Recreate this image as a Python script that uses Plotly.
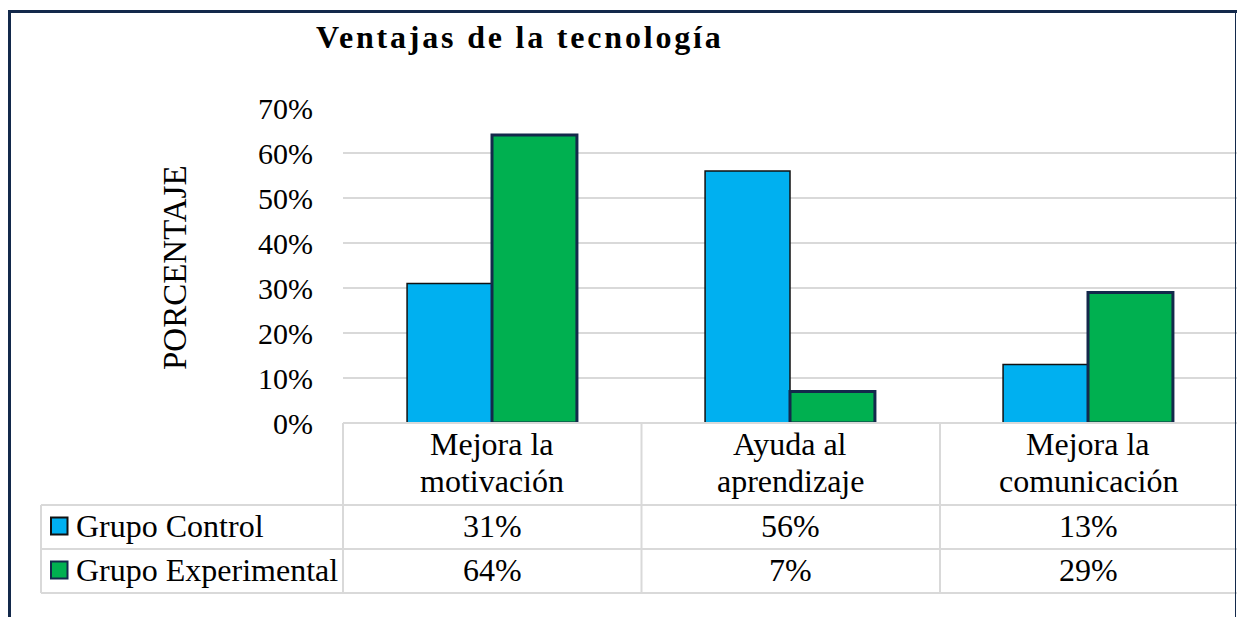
import plotly.graph_objects as go

W, H = 1237, 617

categories = ["Mejora la<br>motivación", "Ayuda al<br>aprendizaje", "Mejora la<br>comunicación"]
series_names = ["Grupo Control", "Grupo Experimental"]
control = [0.31, 0.56, 0.13]
experimental = [0.64, 0.07, 0.29]
y_ticks = [0, 0.1, 0.2, 0.3, 0.4, 0.5, 0.6, 0.7]

BLUE = "#00B0F0"
GREEN = "#00B050"
NAVY = "#13294B"
GRID = "#D9D9D9"
FONT = "Liberation Serif, Times New Roman, serif"
TXT = 32


def px_x(x):
    return x / W


def px_y(y):
    return 1 - y / H


def note(text, x, y, xref="paper", size=TXT, **kw):
    fig.add_annotation(text=text, x=x, y=y, xref=xref, yref="paper", showarrow=False,
                       xanchor=kw.pop("xanchor", "center"), yanchor="middle",
                       font=dict(family=FONT, size=size, color="black"), **kw)


fig = go.Figure()
fig.add_bar(x=categories, y=control, name=series_names[0],
            marker=dict(color=BLUE, line=dict(color="#111111", width=1.5)))
fig.add_bar(x=categories, y=experimental, name=series_names[1],
            marker=dict(color=GREEN, line=dict(color=NAVY, width=3)))

fig.update_layout(
    template="none",
    width=W, height=H,
    margin=dict(l=0, r=0, t=0, b=0, pad=0, autoexpand=False),
    paper_bgcolor="white", plot_bgcolor="white",
    barmode="group", bargap=0.43, bargroupgap=0,
    showlegend=False,
    font=dict(family=FONT, size=TXT, color="black"),
)
fig.update_xaxes(domain=[px_x(343), 1], showticklabels=False, showgrid=False,
                 zeroline=False, showline=False, automargin=False, ticks="")
fig.update_yaxes(domain=[px_y(423), px_y(108)], range=[0, 0.7],
                 tickvals=y_ticks, tickformat=".0%", showgrid=True,
                 gridcolor=GRID, gridwidth=2, zeroline=False, showline=False,
                 ticks="", ticklabelstandoff=29, automargin=False,
                 tickfont=dict(family=FONT, size=30, color="black"))

# title and axis title
note('<span style="letter-spacing:2.8px"><b>Ventajas de la tecnología</b></span>',
     px_x(519), px_y(37))
note("PORCENTAJE", px_x(175), px_y(268), size=33, textangle=-90)

# data table: category row and value rows
for i, cat in enumerate(categories):
    first, second = cat.split("<br>")
    note(first, cat, px_y(444), xref="x")
    note(second, cat, px_y(481), xref="x")
    note(f"{control[i]:.0%}", cat, px_y(526), xref="x")
    note(f"{experimental[i]:.0%}", cat, px_y(570), xref="x")

row_y = [526, 570]
colors = [(BLUE, "#111111"), (GREEN, NAVY)]
for name, yc, (fc, lc) in zip(series_names, row_y, colors):
    fig.add_shape(type="rect", xref="paper", yref="paper",
                  x0=px_x(51), x1=px_x(67.5), y0=px_y(yc - 8.5), y1=px_y(yc + 8.5),
                  fillcolor=fc, line=dict(color=lc, width=2))
    note(name, px_x(74), px_y(yc), xanchor="left")

# table lines
line = dict(color=GRID, width=2)
fig.add_shape(type="line", xref="paper", yref="paper", x0=px_x(343), x1=1,
              y0=px_y(423), y1=px_y(423), line=line)
for yy in [505, 549, 593]:
    fig.add_shape(type="line", xref="paper", yref="paper", x0=px_x(41), x1=1,
                  y0=px_y(yy), y1=px_y(yy), line=line)
for xx in [343, 641.5, 940]:
    fig.add_shape(type="line", xref="paper", yref="paper", x0=px_x(xx), x1=px_x(xx),
                  y0=px_y(423), y1=px_y(593), line=line)
fig.add_shape(type="line", xref="paper", yref="paper", x0=px_x(41), x1=px_x(41),
              y0=px_y(505), y1=px_y(593), line=line)

# outer chart border
fig.add_shape(type="line", xref="paper", yref="paper", x0=px_x(8), x1=1,
              y0=px_y(11.5), y1=px_y(11.5), line=dict(color=NAVY, width=3))
fig.add_shape(type="line", xref="paper", yref="paper", x0=px_x(9.5), x1=px_x(9.5),
              y0=px_y(10), y1=0, line=dict(color=NAVY, width=3))
fig.add_shape(type="line", xref="paper", yref="paper", x0=px_x(1235.5), x1=px_x(1235.5),
              y0=px_y(10), y1=0, line=dict(color=NAVY, width=1))

# the page should start at the corner, like the original picture
fig.write_html("out.html", config={"displayModeBar": False},
               post_script="document.body.style.margin = '0';")
